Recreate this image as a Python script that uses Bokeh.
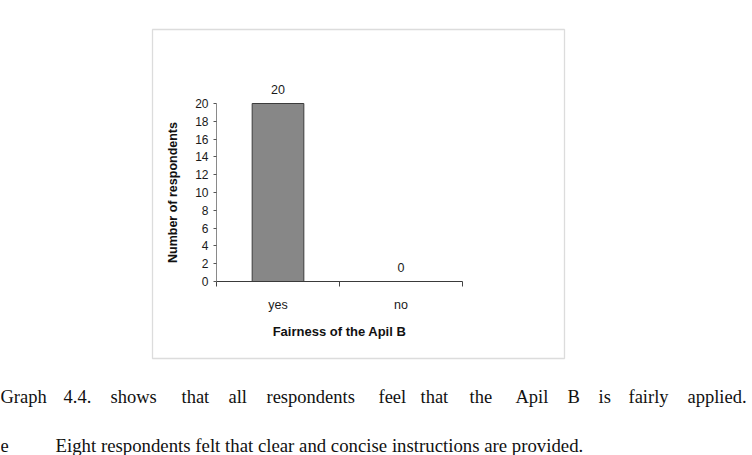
from bokeh.plotting import figure
from bokeh.models import (ColumnDataSource, FixedTicker, LabelSet, Label,
                          BoxAnnotation, Range1d)
from bokeh.core.properties import value
from bokeh.embed import file_html
from bokeh.resources import INLINE

# ---- data ----
categories = ["yes", "no"]
respondents = [20, 0]
y_ticks = [0, 2, 4, 6, 8, 10, 12, 14, 16, 18, 20]
x_title = "Fairness of the Apil B"
y_title = "Number of respondents"

caption_words = ["Graph", "4.4.", "shows", "that", "all", "respondents", "feel",
                 "that", "the", "Apil", "B", "is", "fairly", "applied."]
next_line = "Eight respondents felt that clear and concise instructions are provided."

# ---- layout constants (canvas pixels) ----
W, H = 752, 455
AX_L, AX_R, AX_T, AX_B = 216, 462, 103, 281   # axes box in canvas pixels
n = len(categories)
ymax = max(y_ticks)
px_x = (AX_R - AX_L) / n
px_y = (AX_B - AX_T) / ymax

xs = [i + 0.5 for i in range(n)]
src = ColumnDataSource(dict(x=xs, top=respondents,
                            label=[str(v) for v in respondents]))

# the frame covers the whole canvas; axes are pinned at data locations
p = figure(width=W, height=H, output_backend="svg", toolbar_location=None,
           x_range=Range1d(-AX_L / px_x, (W - AX_L) / px_x),
           y_range=Range1d(-(H - AX_B) / px_y, AX_B / px_y),
           min_border=0, min_border_left=0, min_border_right=0,
           min_border_top=0, min_border_bottom=0)
p.outline_line_color = None
p.grid.grid_line_color = None
p.background_fill_color = "white"
p.border_fill_color = "white"

p.vbar(x="x", top="top", width=0.42, bottom=0, source=src,
       fill_color="#878787", line_color="#3c3c3c", line_width=1)

p.add_layout(LabelSet(x="x", y="top", text="label", source=src,
                      text_align="center", text_baseline="bottom", y_offset=10,
                      text_font=value("Liberation Sans"), text_font_size="12.5px",
                      text_color="#1a1a1a"))

# x axis: labels at category centres, tick marks at category boundaries
xa = p.xaxis[0]
xa.fixed_location = 0
xa.bounds = (0, n)
xa.ticker = FixedTicker(ticks=xs, minor_ticks=list(range(n + 1)))
xa.major_label_overrides = {x: c for x, c in zip(xs, categories)}
xa.major_tick_in = 0
xa.major_tick_out = 0
xa.minor_tick_in = 0
xa.minor_tick_out = 5
xa.minor_tick_line_color = "#444444"
xa.axis_line_color = "#3a3a3a"
xa.axis_line_width = 1.2
xa.major_label_standoff = 11
xa.major_label_text_font = "Liberation Sans"
xa.major_label_text_font_size = "12.5px"
xa.major_label_text_color = "#1a1a1a"
xa.axis_label = x_title
xa.axis_label_text_font = "Liberation Sans"
xa.axis_label_text_font_size = "13px"
xa.axis_label_text_font_style = "bold"
xa.axis_label_text_color = "#111111"
xa.axis_label_standoff = 9

ya = p.yaxis[0]
ya.fixed_location = 0
ya.ticker = FixedTicker(ticks=y_ticks)
ya.bounds = (0, ymax)
ya.major_tick_in = 0
ya.major_tick_out = 3
ya.minor_tick_out = 0
ya.minor_tick_in = 0
ya.major_tick_line_color = "#555555"
ya.axis_line_color = "#8a8a8a"
ya.major_label_standoff = 5
ya.major_label_text_font = "Liberation Sans"
ya.major_label_text_font_size = "12px"
ya.major_label_text_color = "#1a1a1a"
ya.axis_label = y_title
ya.axis_label_text_font = "Liberation Sans"
ya.axis_label_text_font_size = "12.5px"
ya.axis_label_text_font_style = "bold"
ya.axis_label_text_color = "#111111"
ya.axis_label_standoff = 12

# screen coords: origin at bottom-left of the frame (= canvas)
def sx(cx):
    return cx

def sy(cy):
    return H - cy

# chart frame box
p.add_layout(BoxAnnotation(left=sx(152), right=sx(564), top=sy(29), bottom=sy(358),
                           left_units="screen", right_units="screen",
                           top_units="screen", bottom_units="screen",
                           fill_color=None, line_color="#8c8c8c", line_width=1.3,
                           level="underlay"))

# caption text (justified line: one label per word)
word_x = [0, 63, 110, 181, 228, 266, 378, 420, 469, 515, 567, 598, 628, 687]
for w, x in zip(caption_words, word_x):
    p.add_layout(Label(x=sx(x), y=sy(396), x_units="screen", y_units="screen",
                       text=w, text_font="Liberation Serif", text_font_size="18.5px",
                       text_color="#111111", text_baseline="alphabetic"))
p.add_layout(Label(x=sx(0), y=sy(445), x_units="screen", y_units="screen",
                   text="e", text_font="Liberation Serif", text_font_size="18.5px",
                   text_color="#111111", text_baseline="alphabetic"))
p.add_layout(Label(x=sx(55), y=sy(445), x_units="screen", y_units="screen",
                   text=next_line, text_font="Liberation Serif", text_font_size="18.8px",
                   text_color="#111111", text_baseline="alphabetic"))

open("out.html", "w").write(file_html(p, INLINE))
